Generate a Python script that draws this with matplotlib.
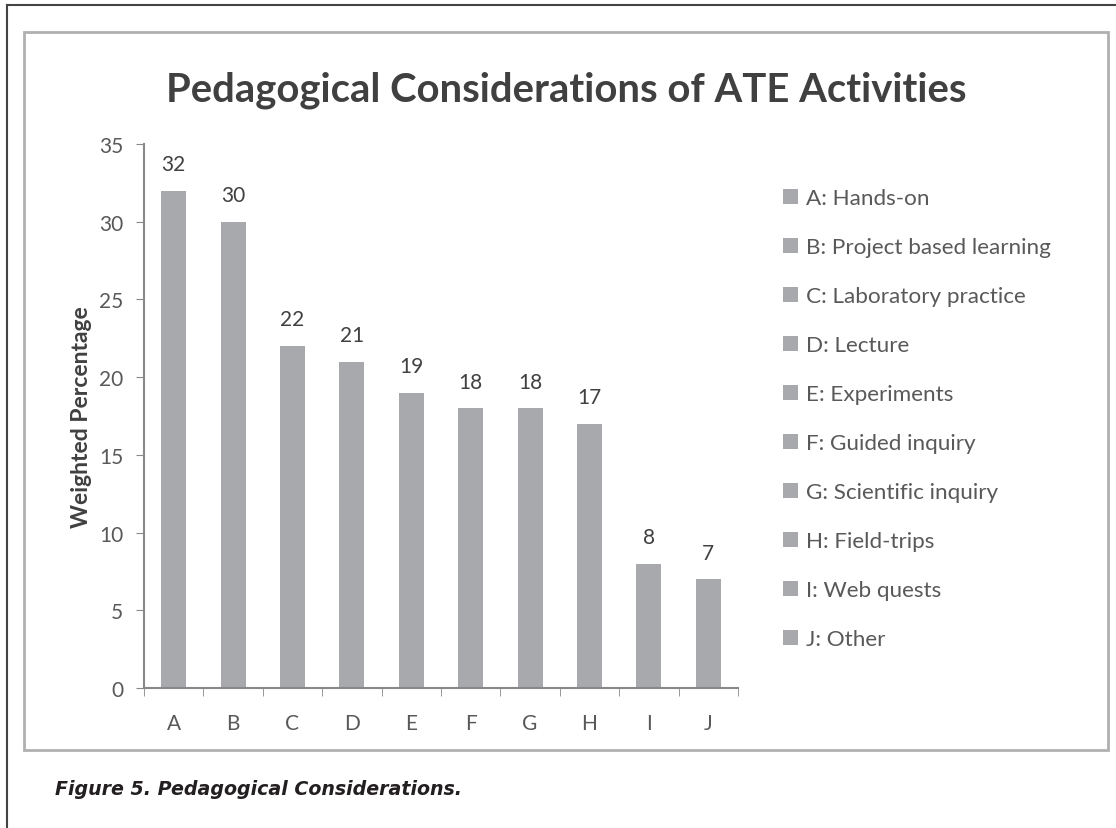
import matplotlib.pyplot as plt
from matplotlib.patches import Patch, Rectangle

# data
letters = ["A", "B", "C", "D", "E", "F", "G", "H", "I", "J"]
activities = ["Hands-on", "Project based learning", "Laboratory practice", "Lecture",
              "Experiments", "Guided inquiry", "Scientific inquiry", "Field-trips",
              "Web quests", "Other"]
weighted_pct = [32, 30, 22, 21, 19, 18, 18, 17, 8, 7]

barColor = "#a8a9ad"
textColor = "#595959"

plt.rcParams['font.family'] = ['Lato', 'DejaVu Sans']

W, H = 1116, 829
fig = plt.figure(figsize=(W / 100, H / 100), dpi=100)

# outer frame (left + top) and inner chart box
fig.add_artist(plt.Line2D([7 / W, 7 / W], [0, 1 - 6 / H], color="#444444", lw=1.5))
fig.add_artist(plt.Line2D([7 / W, 1], [1 - 6 / H, 1 - 6 / H], color="#444444", lw=1.5))
fig.add_artist(Rectangle((24 / W, 1 - 751 / H), (1108 - 24) / W, (751 - 33) / H,
                         fill=False, edgecolor="#b0b0b0", lw=2))

ax = fig.add_axes([144 / W, 1 - 689 / H, 594 / W, (689 - 145) / H])
x = range(len(letters))
bars = ax.bar(x, weighted_pct, width=0.42, color=barColor)
ax.set_xlim(-0.5, len(letters) - 0.5)
ax.set_ylim(0, 35)
ax.set_yticks(range(0, 36, 5))
ax.set_xticks(list(x))
ax.set_xticklabels(letters)
ax.set_xticks([i - 0.5 for i in range(len(letters) + 1)], minor=True)
ax.tick_params(axis='x', which='major', length=0, pad=18, labelsize=15, labelcolor=textColor)
ax.tick_params(axis='x', which='minor', length=6, color="#888888", direction='out')
ax.tick_params(axis='y', length=6, color="#888888", pad=9, labelsize=15, labelcolor=textColor)
for s in ["top", "right"]:
    ax.spines[s].set_visible(False)
for s in ["left", "bottom"]:
    ax.spines[s].set_color("#888888")
    ax.spines[s].set_linewidth(1.5)

for b, v in zip(bars, weighted_pct):
    ax.annotate(str(v), (b.get_x() + b.get_width() / 2, v), xytext=(0, 12),
                textcoords="offset points", ha="center", va="bottom",
                fontsize=15, color="#404040")

ax.set_ylabel("Weighted Percentage", fontsize=16.5, fontweight="bold", color="#404040", labelpad=5)

fig.text(566 / W, 1 - 90 / H, "Pedagogical Considerations of ATE Activities",
         ha="center", va="center", fontsize=28.8, fontweight="bold", color="#404040")

handles = [Patch(facecolor=barColor, edgecolor="none") for _ in letters]
labels = [f"{l}: {a}" for l, a in zip(letters, activities)]
fig.legend(handles, labels, loc="upper left", bbox_to_anchor=(772 / W, 1 - 178 / H),
           frameon=False, fontsize=16.2, labelcolor=textColor, labelspacing=1.29,
           handlelength=0.65, handleheight=0.65, handletextpad=0.35, borderpad=0)

fig.text(55 / W, 1 - 790 / H, "Figure 5. Pedagogical Considerations.",
         ha="left", va="center", fontsize=13.7, fontweight="bold", fontstyle="italic",
         family="DejaVu Sans", color="#231f20")

fig.savefig("out.png", dpi=100)
